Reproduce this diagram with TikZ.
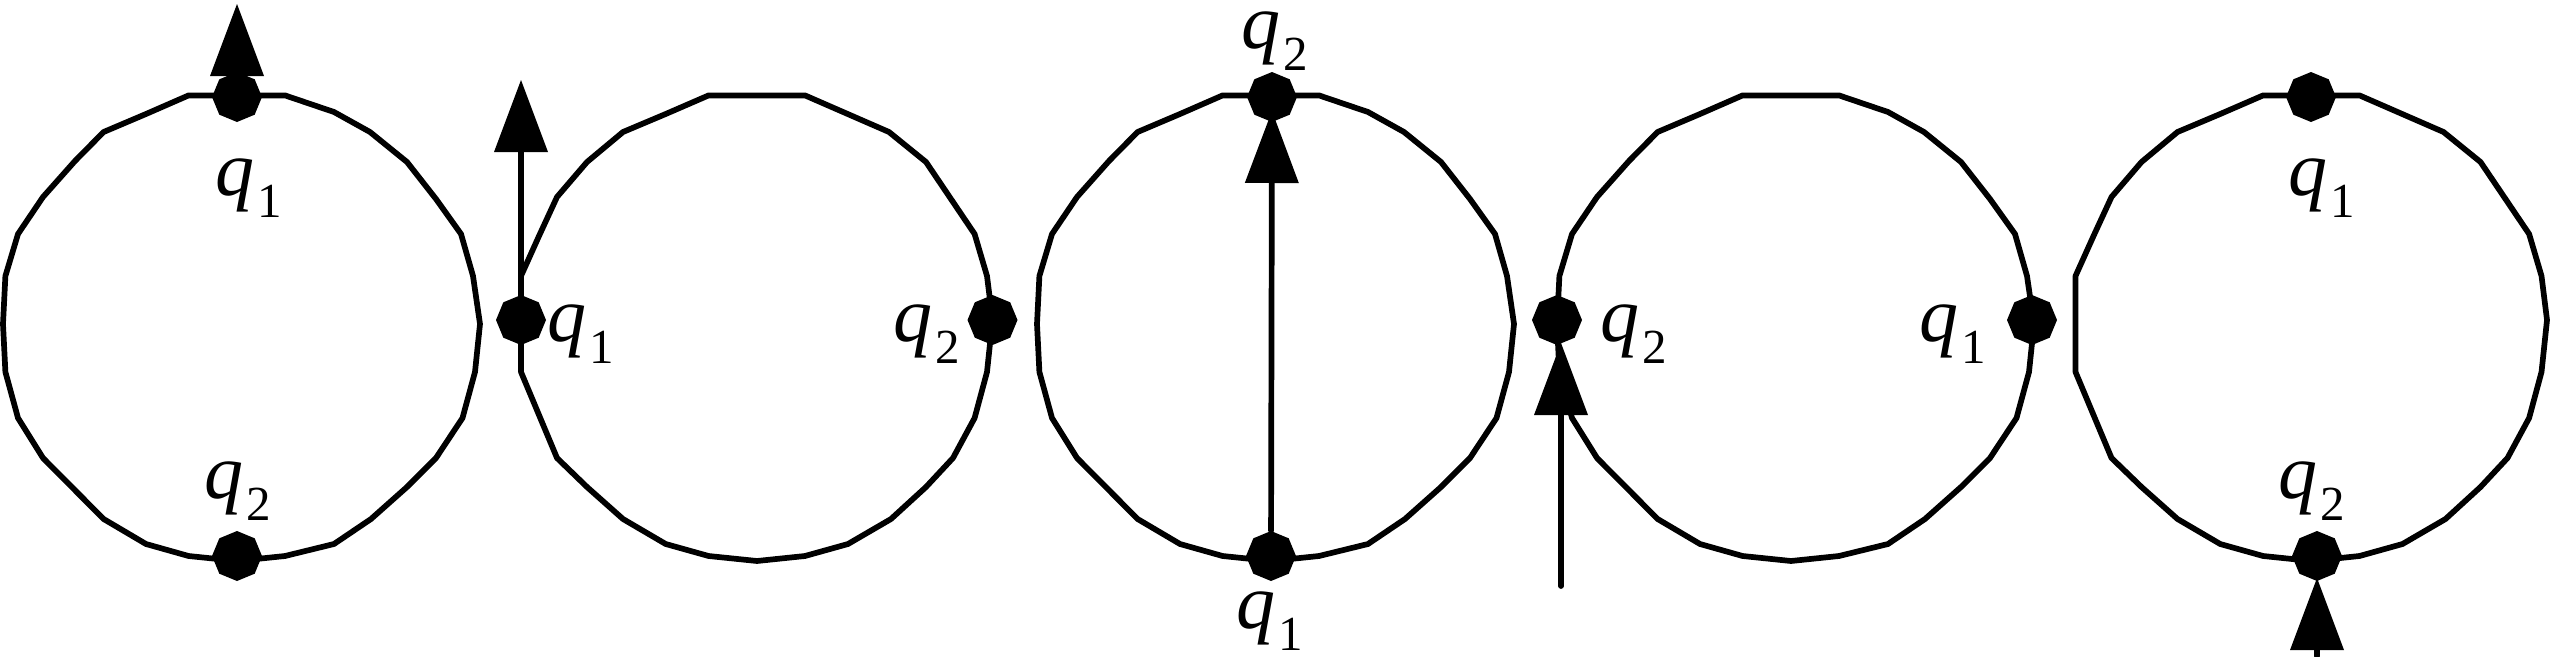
\documentclass[tikz,border=0pt]{standalone}
\usepackage{fontspec}
\setmainfont{Liberation Serif}
\usetikzlibrary{arrows.meta,shapes.geometric}
\newcommand\qlab[1]{\textit{q}\kern3pt\raisebox{-22pt}{\fontsize{49}{49}\selectfont #1}}
\begin{document}
\begin{tikzpicture}[x=1pt,y=-1pt,line join=round,line cap=round,
  ring/.style={draw,line width=5.7pt},
  vdot/.style={regular polygon,regular polygon sides=8,shape border rotate=22.5,fill=black,draw=none,minimum size=50pt,inner sep=0pt},
  lbl/.style={inner sep=0pt,font=\fontsize{78}{78}\selectfont},
  arr/.style={line width=5.7pt,-{Triangle[length=72pt,width=54pt,line width=0pt]}}]
\useasboundingbox (0,0) rectangle (2551,656);
% polygon templates
\def\ringA{(188.6,95.4) -- (285,95.4) -- (334,112) -- (370,132) -- (407,162) -- (436,199) -- (461,234) -- (473,276) -- (480,324) -- (475,372) -- (462.5,418) -- (436,458) -- (407,487) -- (371,519) -- (334,544) -- (285,556) -- (237,561) -- (188.6,556) -- (146,544) -- (103.6,519) -- (43,458) -- (18,418) -- (5.4,372) -- (3,324) -- (5.4,276) -- (18,234) -- (43,197) -- (75,161) -- (103.6,132) -- (146,114) -- cycle}
\def\ringB{(708.6,95.4) -- (805,95.4) -- (889,132) -- (926,162) -- (974.6,234) -- (987,276) -- (992.5,320) -- (987,372) -- (974.6,418) -- (953,458) -- (926,487) -- (891,519) -- (848,544) -- (805,556) -- (757,561) -- (708.6,556) -- (665.7,544) -- (623,519) -- (587,487) -- (557,458) -- (521,372) -- (521,276) -- (539,236) -- (557,197) -- (587,162) -- (623,132) -- (665.7,114) -- cycle}
% rings
\draw[ring] \ringA;
\draw[ring] \ringB;
\begin{scope}[shift={(1034,0)}] \draw[ring] \ringA; \end{scope}
\begin{scope}[shift={(1554,0)}] \draw[ring] \ringA; \end{scope}
\begin{scope}[shift={(1554.5,0)}] \draw[ring] \ringB; \end{scope}
% circle 1
\node[vdot] (c1t) at (237,97) {};
\node[vdot] (c1b) at (237,556) {};
\coordinate (a1) at (237,4);
\draw[arr] (c1t) -- (a1);
\node[lbl] (l1a) at (248.5,188) {\qlab{1}};
\node[lbl] (l1b) at (237.5,491) {\qlab{2}};
% circle 2
\node[vdot] (c2l) at (521,320) {};
\node[vdot] (c2r) at (992.5,320) {};
\coordinate (a2) at (521,80);
\draw[arr] (c2l) -- (a2);
\node[lbl] (l2a) at (580.5,334) {\qlab{1}};
\node[lbl] (l2b) at (926.5,334) {\qlab{2}};
% circle 3
\node[vdot] (c3t) at (1272,97) {};
\node[vdot] (c3b) at (1271,556) {};
\draw[arr,shorten >=14pt] (c3b) -- (c3t.center);
\node[lbl] (l3a) at (1275,41) {\qlab{2}};
\node[lbl] (l3b) at (1269.5,621) {\qlab{1}};
% circle 4
\node[vdot] (c4l) at (1557,320) {};
\node[vdot] (c4r) at (2032,320) {};
\coordinate (a4) at (1561,586);
\coordinate (t4) at (1561,343);
\draw[arr] (a4) -- (t4);
\node[lbl] (l4a) at (1634,334) {\qlab{2}};
\node[lbl] (l4b) at (1952.5,334) {\qlab{1}};
% circle 5
\node[vdot] (c5t) at (2311,97) {};
\node[vdot] (c5b) at (2317,556) {};
\coordinate (a5) at (2317,656);
\draw[arr,shorten >=22pt] (a5) -- (c5b.center);
\node[lbl] (l5a) at (2322,188) {\qlab{1}};
\node[lbl] (l5b) at (2312,491) {\qlab{2}};
\end{tikzpicture}
\end{document}
